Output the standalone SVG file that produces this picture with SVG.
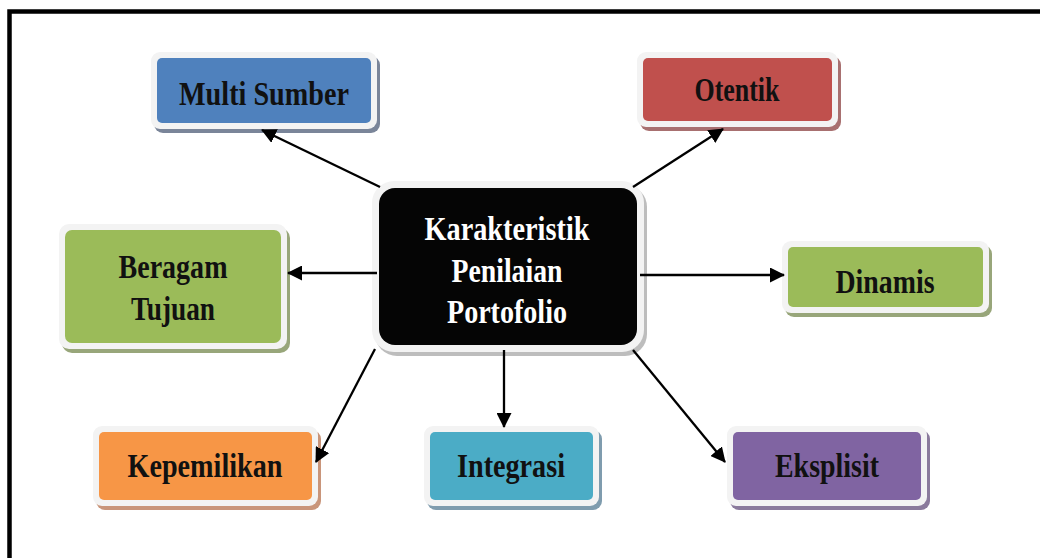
<svg xmlns="http://www.w3.org/2000/svg" width="1040" height="558" viewBox="0 0 1040 558">
<defs>
<marker id="arr" markerUnits="userSpaceOnUse" markerWidth="15" markerHeight="15" refX="14" refY="7.5" orient="auto">
<path d="M0,0 L15,7.5 L0,15 z" fill="#000"/>
</marker>
<style>
.frame{fill:#f3f3f3;}
.lbl{font-family:"Liberation Serif","Times New Roman",serif;font-weight:bold;font-size:33px;fill:#111;text-anchor:middle;}
.clbl{font-family:"Liberation Serif","Times New Roman",serif;font-weight:bold;font-size:33px;fill:#fff;text-anchor:middle;}
.conn{stroke:#000;stroke-width:2.3;fill:none;marker-end:url(#arr);}
</style>
</defs>
<rect width="1040" height="558" fill="#fff"/>
<path d="M9.5,560 L9.5,11.5 L1045,11.5" fill="none" stroke="#000" stroke-width="4.5"/>

<g id="center">
<rect x="375" y="185" width="272" height="171" rx="22" fill="#bdbdbd"/>
<rect class="frame" x="372" y="181" width="272" height="171" rx="22"/>
<rect x="379" y="188" width="258" height="157" rx="16" fill="#050505"/>
<text class="clbl" x="507" y="240" textLength="165" lengthAdjust="spacingAndGlyphs">Karakteristik</text>
<text class="clbl" x="507" y="282" textLength="111" lengthAdjust="spacingAndGlyphs">Penilaian</text>
<text class="clbl" x="507" y="323" textLength="120" lengthAdjust="spacingAndGlyphs">Portofolio</text>
</g>

<g id="multi-sumber">
<rect x="154" y="56" width="226" height="77" rx="9" fill="#7a8599"/>
<rect class="frame" x="151" y="52" width="226" height="77" rx="9"/>
<rect x="157" y="58" width="214" height="65" rx="5" fill="#4f81bd"/>
<text class="lbl" x="264" y="105" textLength="170" lengthAdjust="spacingAndGlyphs">Multi Sumber</text>
</g>

<g id="otentik">
<rect x="640" y="56" width="201" height="75" rx="9" fill="#a87070"/>
<rect class="frame" x="637" y="52" width="201" height="75" rx="9"/>
<rect x="643" y="58" width="189" height="63" rx="5" fill="#c0504d"/>
<text class="lbl" x="737" y="101" textLength="85" lengthAdjust="spacingAndGlyphs">Otentik</text>
</g>

<g id="beragam-tujuan">
<rect x="62" y="228" width="228" height="125" rx="10" fill="#98a67a"/>
<rect class="frame" x="59" y="224" width="228" height="125" rx="10"/>
<rect x="65" y="230" width="216" height="113" rx="7" fill="#9bbb59"/>
<text class="lbl" x="173" y="278" textLength="109" lengthAdjust="spacingAndGlyphs">Beragam</text>
<text class="lbl" x="173" y="320" textLength="84" lengthAdjust="spacingAndGlyphs">Tujuan</text>
</g>

<g id="dinamis">
<rect x="785" y="245" width="207" height="72" rx="9" fill="#98a67a"/>
<rect class="frame" x="782" y="241" width="207" height="72" rx="9"/>
<rect x="788" y="247" width="195" height="60" rx="5" fill="#9bbb59"/>
<text class="lbl" x="885" y="293" textLength="99" lengthAdjust="spacingAndGlyphs">Dinamis</text>
</g>

<g id="kepemilikan">
<rect x="96" y="430" width="225" height="80" rx="9" fill="#c9957a"/>
<rect class="frame" x="93" y="426" width="225" height="80" rx="9"/>
<rect x="99" y="432" width="213" height="68" rx="5" fill="#f79646"/>
<text class="lbl" x="205" y="477" textLength="155" lengthAdjust="spacingAndGlyphs">Kepemilikan</text>
</g>

<g id="integrasi">
<rect x="427" y="430" width="175" height="80" rx="9" fill="#7f9cae"/>
<rect class="frame" x="424" y="426" width="175" height="80" rx="9"/>
<rect x="430" y="432" width="163" height="68" rx="5" fill="#4bacc6"/>
<text class="lbl" x="511" y="477" textLength="108" lengthAdjust="spacingAndGlyphs">Integrasi</text>
</g>

<g id="eksplisit">
<rect x="730" y="430" width="200" height="80" rx="9" fill="#8a7a9c"/>
<rect class="frame" x="727" y="426" width="200" height="80" rx="9"/>
<rect x="733" y="432" width="188" height="68" rx="5" fill="#8064a2"/>
<text class="lbl" x="827" y="477" textLength="104" lengthAdjust="spacingAndGlyphs">Eksplisit</text>
</g>

<g id="connectors">
<line class="conn" x1="380" y1="187" x2="262" y2="130"/>
<line class="conn" x1="633" y1="187" x2="723" y2="129"/>
<line class="conn" x1="377" y1="273" x2="288" y2="273"/>
<line class="conn" x1="640" y1="275" x2="784" y2="275"/>
<line class="conn" x1="375" y1="349" x2="316" y2="462"/>
<line class="conn" x1="504" y1="350" x2="504" y2="427"/>
<line class="conn" x1="633" y1="350" x2="725" y2="462"/>
</g>
</svg>
